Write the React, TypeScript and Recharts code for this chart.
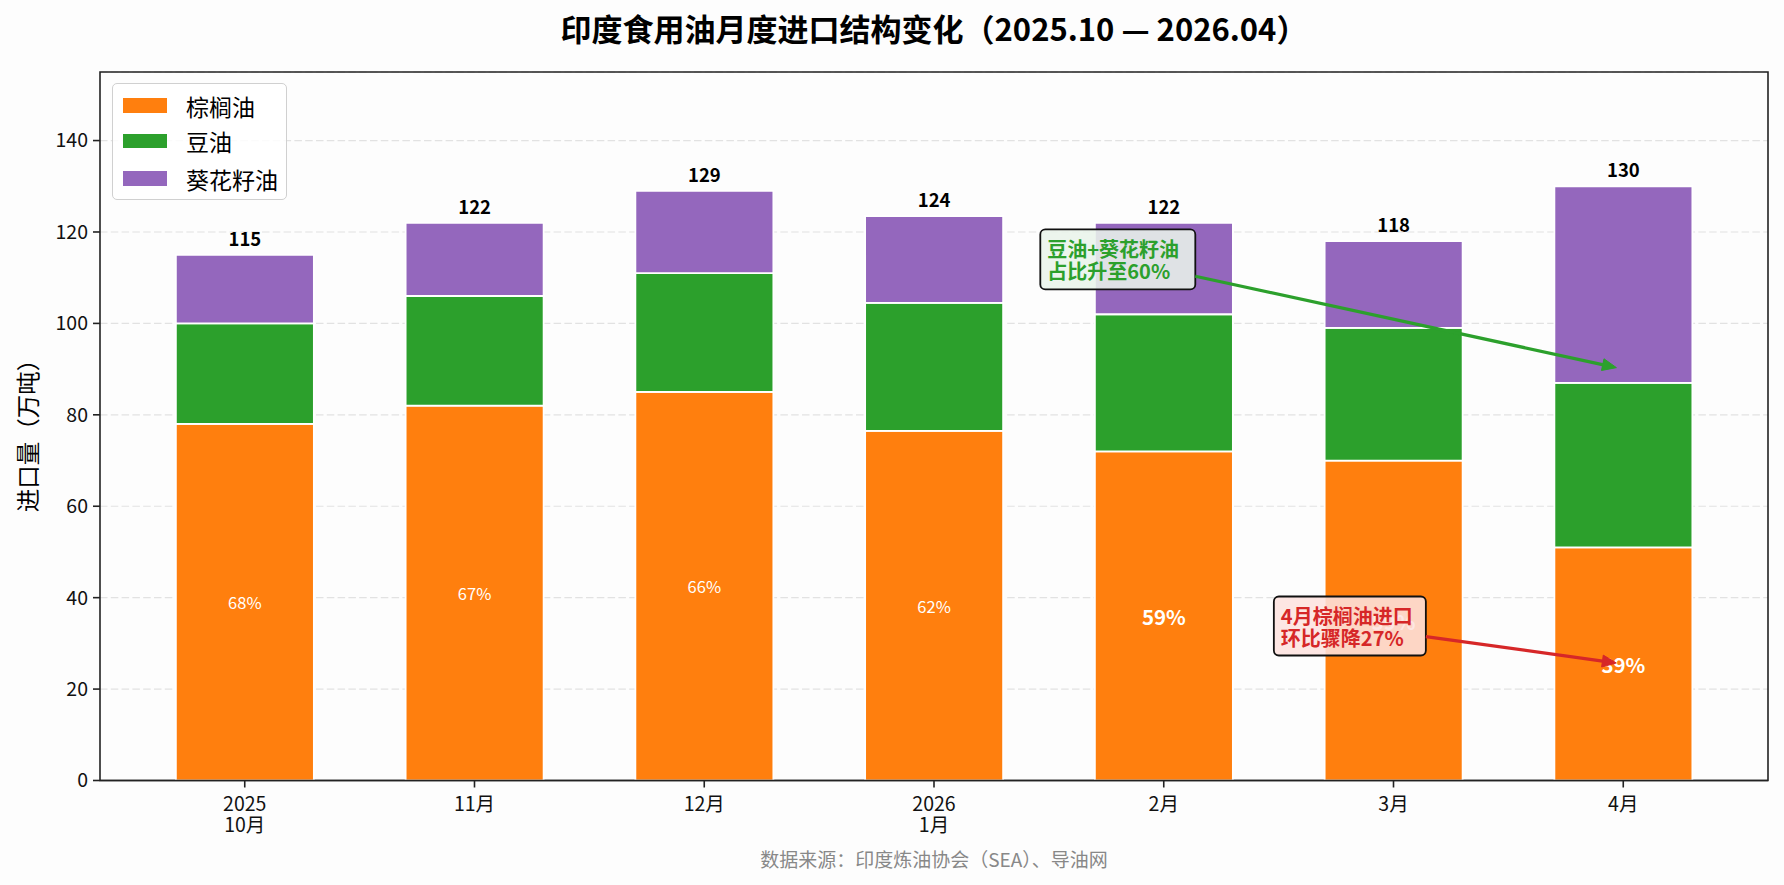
import React from 'react';
import {
  BarChart,
  Bar,
  XAxis,
  YAxis,
  CartesianGrid,
  LabelList,
  ReferenceLine,
  ReferenceArea,
} from 'recharts';

// 印度食用油月度进口（万吨）
const months = ['2025\n10月', '11月', '12月', '2026\n1月', '2月', '3月', '4月'];
const palmOil = [78, 82, 85, 76.5, 72, 70, 51];
const soyOil = [22, 24, 26, 28, 30, 29, 36];
const sunflowerOil = [15, 16, 18, 19, 20, 19, 43];
const yTicks = [0, 20, 40, 60, 80, 100, 120, 140];
const xTicks = months.map((_, i) => i);

const seriesNames = ['棕榈油', '豆油', '葵花籽油'];
const seriesColors = ['#ff7f0e', '#2ca02c', '#9467bd'];

const data = months.map((month, i) => {
  const total = palmOil[i] + soyOil[i] + sunflowerOil[i];
  return {
    idx: i,
    month,
    palm: palmOil[i],
    soy: soyOil[i],
    sun: sunflowerOil[i],
    total,
    share: Math.round((palmOil[i] / total) * 100),
  };
});

const W = 1784;
const H = 885;
const FONT = "'Noto Sans CJK SC', 'DejaVu Sans', sans-serif";

const MonthTick = (props: any) => {
  const { x, y, payload } = props;
  const lines = String(months[payload.value] ?? '').split('\n');
  return (
    <text x={x} y={y + 21.5} textAnchor="middle" fill="#111" fontSize={19.5} fontFamily={FONT}>
      {lines.map((ln, k) => (
        <tspan key={k} x={x} dy={k === 0 ? 0 : 20.5}>
          {ln}
        </tspan>
      ))}
    </text>
  );
};

// Palm segment with its share of the monthly total written inside
const PalmShape = (props: any) => {
  const { x, y, width, height, fill, index, payload } = props;
  const big = index >= 4;
  return (
    <g>
      <rect x={x} y={y} width={width} height={height} fill={fill} stroke="#fff" strokeWidth={1.8} />
      <text
        x={x + width / 2}
        y={y + height / 2}
        textAnchor="middle"
        dominantBaseline="central"
        fill="#fff"
        fontSize={big ? 20.5 : 16.5}
        fontWeight={big ? 700 : 400}
        fontFamily={FONT}
      >
        {payload?.share}%
      </text>
    </g>
  );
};

const TotalLabel = (props: any) => {
  const { x, y, width, value } = props;
  return (
    <text
      x={x + width / 2}
      y={y - 9}
      textAnchor="middle"
      fill="#000"
      fontSize={18.5}
      fontWeight={700}
      fontFamily={FONT}
    >
      {Math.round(value)}
    </text>
  );
};

// Text box at the segment start, arrow pointing to the segment end
const makeCallout = (lines: string[], color: string, fill: string, w: number, h: number) =>
  (p: any) => {
    const { x1, y1, x2, y2 } = p;
    if ([x1, y1, x2, y2].some((v) => typeof v !== 'number' || isNaN(v))) return <g />;
    const dx = x2 - x1;
    const dy = y2 - y1;
    const len = Math.hypot(dx, dy);
    const ux = dx / len;
    const uy = dy / len;
    const t = Math.min(w / 2 / Math.abs(dx || 1e-9), h / 2 / Math.abs(dy || 1e-9));
    const sx = x1 + dx * t;
    const sy = y1 + dy * t;
    const shrink = 7;
    const tipX = x2 - ux * shrink;
    const tipY = y2 - uy * shrink;
    const headL = 14;
    const headW = 6;
    const bx = tipX - ux * headL;
    const by = tipY - uy * headL;
    const px = -uy;
    const py = ux;
    return (
      <g>
        <rect
          x={x1 - w / 2}
          y={y1 - h / 2}
          width={w}
          height={h}
          rx={5}
          ry={5}
          fill={fill}
          fillOpacity={0.88}
          stroke="#111"
          strokeWidth={1.8}
        />
        {lines.map((ln, k) => (
          <text
            key={k}
            x={x1 - w / 2 + 7}
            y={y1 + (k - (lines.length - 1) / 2) * 22}
            dominantBaseline="central"
            fill={color}
            fontSize={20}
            fontWeight={700}
            fontFamily={FONT}
          >
            {ln}
          </text>
        ))}
        <line x1={sx} y1={sy} x2={bx + ux * 2} y2={by + uy * 2} stroke={color} strokeWidth={3.2} />
        <polygon
          points={`${tipX},${tipY} ${bx + px * headW},${by + py * headW} ${bx - px * headW},${by - py * headW}`}
          fill={color}
          stroke={color}
          strokeWidth={1}
        />
      </g>
    );
  };

const greenCallout = makeCallout(['豆油+葵花籽油', '占比升至60%'], '#2ca02c', '#e9f4ea', 155, 60);
const redCallout = makeCallout(['4月棕榈油进口', '环比骤降27%'], '#d62728', '#fde3df', 152, 59);

export default function App() {
  return (
    <div
      style={{
        position: 'absolute',
        left: 0,
        top: 0,
        width: W,
        height: H,
        background: '#fdfdfd',
        fontFamily: FONT,
        overflow: 'hidden',
      }}
    >
      <div
        style={{
          position: 'absolute',
          left: 100,
          width: 1668,
          top: -2,
          height: 60,
          lineHeight: '60px',
          textAlign: 'center',
          fontSize: 31,
          fontWeight: 700,
          color: '#000',
          whiteSpace: 'nowrap',
        }}
      >
        印度食用油月度进口结构变化（2025.10 — 2026.04）
      </div>

      <BarChart
        width={W}
        height={H}
        data={data}
        margin={{ top: 72, right: 16, left: 40, bottom: 35 }}
        style={{ fontFamily: FONT }}
      >
        <CartesianGrid vertical={false} stroke="#e2e2e2" strokeDasharray="7.5 3.3" strokeWidth={1.2} />
        <XAxis
          type="number"
          dataKey="idx"
          domain={[-0.63, 6.63]}
          allowDataOverflow
          ticks={xTicks}
          interval={0}
          height={69.5}
          axisLine={false}
          tickSize={7}
          tickMargin={2}
          tickLine={{ stroke: '#222', strokeWidth: 1.6 }}
          tick={<MonthTick />}
        />
        <YAxis
          type="number"
          domain={[0, 155]}
          allowDataOverflow
          ticks={yTicks}
          interval={0}
          width={60}
          axisLine={false}
          tickSize={7}
          tickMargin={5}
          tickLine={{ stroke: '#222', strokeWidth: 1.6 }}
          tick={{ fill: '#111', fontSize: 19.5, fontFamily: FONT }}
        />
        <ReferenceArea
          x1={-0.63}
          x2={6.63}
          y1={0}
          y2={155}
          fill="none"
          fillOpacity={0}
          stroke="#222"
          strokeWidth={1.6}
          ifOverflow="visible"
        />
        <Bar
          dataKey="palm"
          stackId="a"
          fill={seriesColors[0]}
          barSize={138}
          isAnimationActive={false}
          shape={PalmShape}
        />
        <Bar dataKey="soy" stackId="a" fill={seriesColors[1]} stroke="#fff" strokeWidth={1.8} barSize={138} isAnimationActive={false} />
        <Bar dataKey="sun" stackId="a" fill={seriesColors[2]} stroke="#fff" strokeWidth={1.8} barSize={138} isAnimationActive={false}>
          <LabelList dataKey="total" content={TotalLabel} />
        </Bar>
        <ReferenceLine y={0} stroke="#222" strokeWidth={1.6} ifOverflow="visible" />
        <ReferenceLine
          segment={[{ x: 3.8, y: 114 }, { x: 6, y: 90 }]}
          ifOverflow="visible"
          shape={greenCallout}
        />
        <ReferenceLine
          segment={[{ x: 4.81, y: 33.8 }, { x: 6, y: 25.5 }]}
          ifOverflow="visible"
          shape={redCallout}
        />
      </BarChart>

      <div
        style={{
          position: 'absolute',
          left: 111.5,
          top: 82.5,
          width: 175,
          height: 117,
          boxSizing: 'border-box',
          border: '1.5px solid #d0d0d0',
          borderRadius: 5,
          background: 'rgba(255,255,255,0.85)',
        }}
      >
        {seriesNames.map((name, i) => (
          <div key={name} style={{ position: 'absolute', left: 0, top: [22, 57.5, 95][i] - 15, height: 30, width: '100%' }}>
            <div
              style={{
                position: 'absolute',
                left: 10,
                top: 7.75,
                width: 44,
                height: 14.5,
                background: seriesColors[i],
              }}
            />
            <div
              style={{
                position: 'absolute',
                left: 73.5,
                top: 0,
                height: 30,
                lineHeight: '30px',
                fontSize: 23,
                color: '#000',
                whiteSpace: 'nowrap',
              }}
            >
              {name}
            </div>
          </div>
        ))}
      </div>

      <div
        style={{
          position: 'absolute',
          left: 27 - 120,
          top: 430 - 15,
          width: 240,
          height: 30,
          lineHeight: '30px',
          textAlign: 'center',
          fontSize: 23.5,
          color: '#000',
          transform: 'rotate(-90deg)',
          whiteSpace: 'nowrap',
        }}
      >
        进口量（万吨）
      </div>

      <div
        style={{
          position: 'absolute',
          left: 100,
          width: 1668,
          top: 859 - 15,
          height: 30,
          lineHeight: '30px',
          textAlign: 'center',
          fontSize: 19,
          color: '#888',
        }}
      >
        数据来源：印度炼油协会（SEA）、导油网
      </div>
    </div>
  );
}
